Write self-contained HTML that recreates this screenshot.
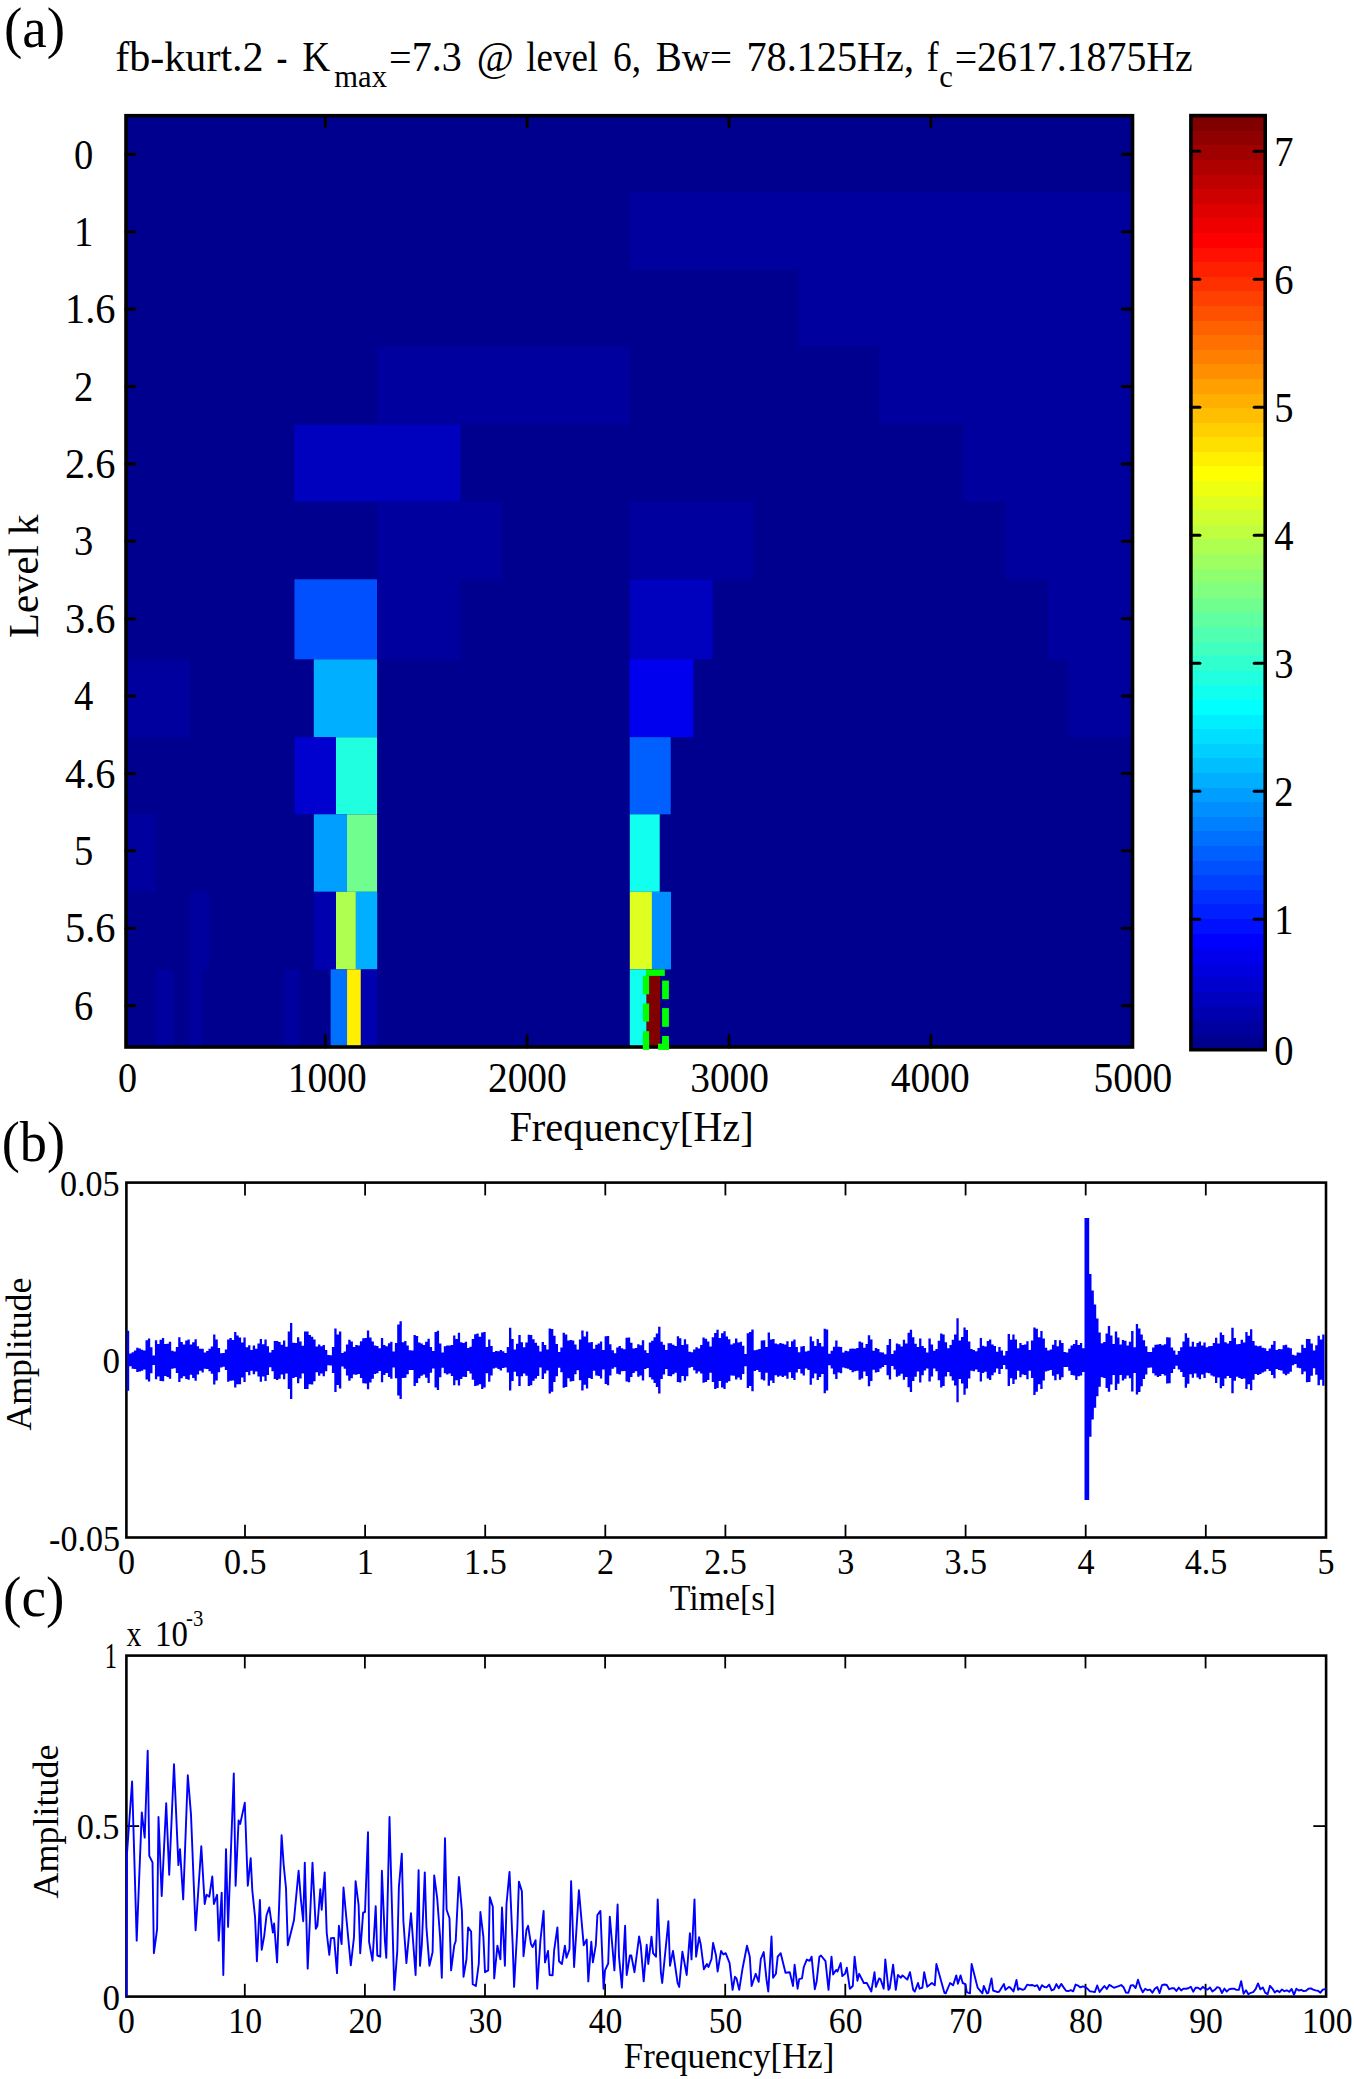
<!DOCTYPE html>
<html><head><meta charset="utf-8"><title>Fast kurtogram</title>
<style>html,body{margin:0;padding:0;background:#fff}svg{display:block}text{font-family:"Liberation Serif",serif;fill:#000}</style>
</head><body>
<svg width="1354" height="2079" viewBox="0 0 1354 2079">
<rect width="1354" height="2079" fill="#fff"/>
<rect x="126" y="115.5" width="1006.5" height="931.5" fill="#00008f"/>
<rect x="629.60" y="191.90" width="502.90" height="77.30" fill="#00009f"/>
<rect x="798.60" y="269.20" width="333.90" height="77.30" fill="#00009f"/>
<rect x="377.05" y="346.50" width="252.55" height="78.10" fill="#00009f"/>
<rect x="879.20" y="346.50" width="253.30" height="78.10" fill="#00009f"/>
<rect x="294.30" y="424.60" width="166.00" height="76.90" fill="#0000bf"/>
<rect x="963.00" y="424.60" width="169.50" height="76.90" fill="#00009f"/>
<rect x="377.05" y="501.50" width="124.65" height="77.80" fill="#00009f"/>
<rect x="629.60" y="501.50" width="124.00" height="77.80" fill="#00009f"/>
<rect x="1005.00" y="501.50" width="127.50" height="77.80" fill="#00009f"/>
<rect x="294.45" y="579.30" width="82.60" height="80.00" fill="#0050ff"/>
<rect x="377.05" y="579.30" width="83.25" height="80.00" fill="#00009f"/>
<rect x="629.60" y="579.30" width="82.90" height="80.00" fill="#0000bf"/>
<rect x="1048.00" y="579.30" width="84.50" height="80.00" fill="#00009f"/>
<rect x="126.00" y="659.30" width="63.40" height="77.90" fill="#00009f"/>
<rect x="313.80" y="659.30" width="63.25" height="77.90" fill="#00afff"/>
<rect x="629.60" y="659.30" width="63.70" height="77.90" fill="#0000ef"/>
<rect x="1068.50" y="659.30" width="64.00" height="77.90" fill="#00009f"/>
<rect x="294.60" y="737.20" width="41.40" height="77.10" fill="#0000cf"/>
<rect x="336.00" y="737.20" width="41.05" height="77.10" fill="#20ffdf"/>
<rect x="629.70" y="737.20" width="41.00" height="77.10" fill="#0060ff"/>
<rect x="126.00" y="814.30" width="29.90" height="77.50" fill="#00009f"/>
<rect x="313.86" y="814.30" width="33.04" height="77.50" fill="#009fff"/>
<rect x="346.90" y="814.30" width="30.15" height="77.50" fill="#70ff8f"/>
<rect x="629.80" y="814.30" width="29.90" height="77.50" fill="#10ffef"/>
<rect x="189.80" y="891.80" width="19.20" height="77.60" fill="#00009f"/>
<rect x="314.00" y="891.80" width="22.00" height="77.60" fill="#0000af"/>
<rect x="336.00" y="891.80" width="19.90" height="77.60" fill="#afff50"/>
<rect x="355.90" y="891.80" width="21.30" height="77.60" fill="#00afff"/>
<rect x="629.80" y="891.80" width="22.15" height="77.60" fill="#dfff20"/>
<rect x="651.95" y="891.80" width="19.05" height="77.60" fill="#008fff"/>
<rect x="155.90" y="969.40" width="17.30" height="77.60" fill="#00009f"/>
<rect x="189.80" y="969.40" width="12.60" height="77.60" fill="#00009f"/>
<rect x="283.50" y="969.40" width="16.40" height="77.60" fill="#00009f"/>
<rect x="330.65" y="969.40" width="16.40" height="77.60" fill="#0070ff"/>
<rect x="347.05" y="969.40" width="13.81" height="77.60" fill="#ffef00"/>
<rect x="360.86" y="969.40" width="16.34" height="77.60" fill="#0000af"/>
<rect x="629.80" y="969.40" width="16.80" height="77.60" fill="#10ffef"/>
<rect x="646.60" y="969.40" width="13.47" height="77.60" fill="#800000"/>
<rect x="646.00" y="969.40" width="18.80" height="6.50" fill="#00ff00"/>
<rect x="642.90" y="975.90" width="6.20" height="18.40" fill="#00ff00"/>
<rect x="642.90" y="1003.50" width="6.20" height="18.10" fill="#00ff00"/>
<rect x="642.90" y="1031.20" width="6.20" height="18.50" fill="#00ff00"/>
<rect x="662.10" y="980.60" width="6.80" height="18.50" fill="#00ff00"/>
<rect x="662.10" y="1008.10" width="6.80" height="18.70" fill="#00ff00"/>
<rect x="662.10" y="1036.00" width="6.80" height="13.70" fill="#00ff00"/>
<rect x="658.00" y="1043.80" width="10.90" height="5.90" fill="#00ff00"/>
<line x1="126.00" y1="154.40" x2="134.60" y2="154.40" stroke="#000" stroke-width="3.1" stroke-linecap="round"/>
<line x1="1132.50" y1="154.40" x2="1122.40" y2="154.40" stroke="#000" stroke-width="3.1" stroke-linecap="round"/>
<line x1="126.00" y1="231.78" x2="134.60" y2="231.78" stroke="#000" stroke-width="3.1" stroke-linecap="round"/>
<line x1="1132.50" y1="231.78" x2="1122.40" y2="231.78" stroke="#000" stroke-width="3.1" stroke-linecap="round"/>
<line x1="126.00" y1="309.16" x2="134.60" y2="309.16" stroke="#000" stroke-width="3.1" stroke-linecap="round"/>
<line x1="1132.50" y1="309.16" x2="1122.40" y2="309.16" stroke="#000" stroke-width="3.1" stroke-linecap="round"/>
<line x1="126.00" y1="386.54" x2="134.60" y2="386.54" stroke="#000" stroke-width="3.1" stroke-linecap="round"/>
<line x1="1132.50" y1="386.54" x2="1122.40" y2="386.54" stroke="#000" stroke-width="3.1" stroke-linecap="round"/>
<line x1="126.00" y1="463.92" x2="134.60" y2="463.92" stroke="#000" stroke-width="3.1" stroke-linecap="round"/>
<line x1="1132.50" y1="463.92" x2="1122.40" y2="463.92" stroke="#000" stroke-width="3.1" stroke-linecap="round"/>
<line x1="126.00" y1="541.30" x2="134.60" y2="541.30" stroke="#000" stroke-width="3.1" stroke-linecap="round"/>
<line x1="1132.50" y1="541.30" x2="1122.40" y2="541.30" stroke="#000" stroke-width="3.1" stroke-linecap="round"/>
<line x1="126.00" y1="618.68" x2="134.60" y2="618.68" stroke="#000" stroke-width="3.1" stroke-linecap="round"/>
<line x1="1132.50" y1="618.68" x2="1122.40" y2="618.68" stroke="#000" stroke-width="3.1" stroke-linecap="round"/>
<line x1="126.00" y1="696.06" x2="134.60" y2="696.06" stroke="#000" stroke-width="3.1" stroke-linecap="round"/>
<line x1="1132.50" y1="696.06" x2="1122.40" y2="696.06" stroke="#000" stroke-width="3.1" stroke-linecap="round"/>
<line x1="126.00" y1="773.44" x2="134.60" y2="773.44" stroke="#000" stroke-width="3.1" stroke-linecap="round"/>
<line x1="1132.50" y1="773.44" x2="1122.40" y2="773.44" stroke="#000" stroke-width="3.1" stroke-linecap="round"/>
<line x1="126.00" y1="850.82" x2="134.60" y2="850.82" stroke="#000" stroke-width="3.1" stroke-linecap="round"/>
<line x1="1132.50" y1="850.82" x2="1122.40" y2="850.82" stroke="#000" stroke-width="3.1" stroke-linecap="round"/>
<line x1="126.00" y1="928.20" x2="134.60" y2="928.20" stroke="#000" stroke-width="3.1" stroke-linecap="round"/>
<line x1="1132.50" y1="928.20" x2="1122.40" y2="928.20" stroke="#000" stroke-width="3.1" stroke-linecap="round"/>
<line x1="126.00" y1="1005.58" x2="134.60" y2="1005.58" stroke="#000" stroke-width="3.1" stroke-linecap="round"/>
<line x1="1132.50" y1="1005.58" x2="1122.40" y2="1005.58" stroke="#000" stroke-width="3.1" stroke-linecap="round"/>
<line x1="325.33" y1="1047.00" x2="325.33" y2="1035.50" stroke="#000" stroke-width="2.9" stroke-linecap="round"/>
<line x1="325.33" y1="115.60" x2="325.33" y2="127.00" stroke="#000" stroke-width="2.9" stroke-linecap="round"/>
<line x1="527.16" y1="1047.00" x2="527.16" y2="1035.50" stroke="#000" stroke-width="2.9" stroke-linecap="round"/>
<line x1="527.16" y1="115.60" x2="527.16" y2="127.00" stroke="#000" stroke-width="2.9" stroke-linecap="round"/>
<line x1="728.99" y1="1047.00" x2="728.99" y2="1035.50" stroke="#000" stroke-width="2.9" stroke-linecap="round"/>
<line x1="728.99" y1="115.60" x2="728.99" y2="127.00" stroke="#000" stroke-width="2.9" stroke-linecap="round"/>
<line x1="930.82" y1="1047.00" x2="930.82" y2="1035.50" stroke="#000" stroke-width="2.9" stroke-linecap="round"/>
<line x1="930.82" y1="115.60" x2="930.82" y2="127.00" stroke="#000" stroke-width="2.9" stroke-linecap="round"/>
<rect x="126" y="115.7" width="1006.5" height="931.3" fill="none" stroke="#000" stroke-width="3.6"/>
<rect x="642.90" y="1040.00" width="6.20" height="9.70" fill="#00ff00"/>
<rect x="658.00" y="1043.80" width="10.90" height="5.90" fill="#00ff00"/>
<rect x="662.10" y="1040.00" width="6.80" height="9.70" fill="#00ff00"/>
<rect x="1190.90" y="1035.10" width="74.30" height="15.20" fill="#00008f" shape-rendering="crispEdges"/>
<rect x="1190.90" y="1020.51" width="74.30" height="15.20" fill="#00009f" shape-rendering="crispEdges"/>
<rect x="1190.90" y="1005.91" width="74.30" height="15.20" fill="#0000af" shape-rendering="crispEdges"/>
<rect x="1190.90" y="991.32" width="74.30" height="15.20" fill="#0000bf" shape-rendering="crispEdges"/>
<rect x="1190.90" y="976.72" width="74.30" height="15.20" fill="#0000cf" shape-rendering="crispEdges"/>
<rect x="1190.90" y="962.13" width="74.30" height="15.20" fill="#0000df" shape-rendering="crispEdges"/>
<rect x="1190.90" y="947.53" width="74.30" height="15.20" fill="#0000ef" shape-rendering="crispEdges"/>
<rect x="1190.90" y="932.94" width="74.30" height="15.20" fill="#0000ff" shape-rendering="crispEdges"/>
<rect x="1190.90" y="918.34" width="74.30" height="15.20" fill="#0010ff" shape-rendering="crispEdges"/>
<rect x="1190.90" y="903.75" width="74.30" height="15.20" fill="#0020ff" shape-rendering="crispEdges"/>
<rect x="1190.90" y="889.15" width="74.30" height="15.20" fill="#0030ff" shape-rendering="crispEdges"/>
<rect x="1190.90" y="874.56" width="74.30" height="15.20" fill="#0040ff" shape-rendering="crispEdges"/>
<rect x="1190.90" y="859.96" width="74.30" height="15.20" fill="#0050ff" shape-rendering="crispEdges"/>
<rect x="1190.90" y="845.37" width="74.30" height="15.20" fill="#0060ff" shape-rendering="crispEdges"/>
<rect x="1190.90" y="830.77" width="74.30" height="15.20" fill="#0070ff" shape-rendering="crispEdges"/>
<rect x="1190.90" y="816.18" width="74.30" height="15.20" fill="#0080ff" shape-rendering="crispEdges"/>
<rect x="1190.90" y="801.58" width="74.30" height="15.20" fill="#008fff" shape-rendering="crispEdges"/>
<rect x="1190.90" y="786.98" width="74.30" height="15.20" fill="#009fff" shape-rendering="crispEdges"/>
<rect x="1190.90" y="772.39" width="74.30" height="15.20" fill="#00afff" shape-rendering="crispEdges"/>
<rect x="1190.90" y="757.79" width="74.30" height="15.20" fill="#00bfff" shape-rendering="crispEdges"/>
<rect x="1190.90" y="743.20" width="74.30" height="15.20" fill="#00cfff" shape-rendering="crispEdges"/>
<rect x="1190.90" y="728.60" width="74.30" height="15.20" fill="#00dfff" shape-rendering="crispEdges"/>
<rect x="1190.90" y="714.01" width="74.30" height="15.20" fill="#00efff" shape-rendering="crispEdges"/>
<rect x="1190.90" y="699.41" width="74.30" height="15.20" fill="#00ffff" shape-rendering="crispEdges"/>
<rect x="1190.90" y="684.82" width="74.30" height="15.20" fill="#10ffef" shape-rendering="crispEdges"/>
<rect x="1190.90" y="670.22" width="74.30" height="15.20" fill="#20ffdf" shape-rendering="crispEdges"/>
<rect x="1190.90" y="655.63" width="74.30" height="15.20" fill="#30ffcf" shape-rendering="crispEdges"/>
<rect x="1190.90" y="641.03" width="74.30" height="15.20" fill="#40ffbf" shape-rendering="crispEdges"/>
<rect x="1190.90" y="626.44" width="74.30" height="15.20" fill="#50ffaf" shape-rendering="crispEdges"/>
<rect x="1190.90" y="611.84" width="74.30" height="15.20" fill="#60ff9f" shape-rendering="crispEdges"/>
<rect x="1190.90" y="597.25" width="74.30" height="15.20" fill="#70ff8f" shape-rendering="crispEdges"/>
<rect x="1190.90" y="582.65" width="74.30" height="15.20" fill="#80ff80" shape-rendering="crispEdges"/>
<rect x="1190.90" y="568.05" width="74.30" height="15.20" fill="#8fff70" shape-rendering="crispEdges"/>
<rect x="1190.90" y="553.46" width="74.30" height="15.20" fill="#9fff60" shape-rendering="crispEdges"/>
<rect x="1190.90" y="538.86" width="74.30" height="15.20" fill="#afff50" shape-rendering="crispEdges"/>
<rect x="1190.90" y="524.27" width="74.30" height="15.20" fill="#bfff40" shape-rendering="crispEdges"/>
<rect x="1190.90" y="509.67" width="74.30" height="15.20" fill="#cfff30" shape-rendering="crispEdges"/>
<rect x="1190.90" y="495.08" width="74.30" height="15.20" fill="#dfff20" shape-rendering="crispEdges"/>
<rect x="1190.90" y="480.48" width="74.30" height="15.20" fill="#efff10" shape-rendering="crispEdges"/>
<rect x="1190.90" y="465.89" width="74.30" height="15.20" fill="#ffff00" shape-rendering="crispEdges"/>
<rect x="1190.90" y="451.29" width="74.30" height="15.20" fill="#ffef00" shape-rendering="crispEdges"/>
<rect x="1190.90" y="436.70" width="74.30" height="15.20" fill="#ffdf00" shape-rendering="crispEdges"/>
<rect x="1190.90" y="422.10" width="74.30" height="15.20" fill="#ffcf00" shape-rendering="crispEdges"/>
<rect x="1190.90" y="407.51" width="74.30" height="15.20" fill="#ffbf00" shape-rendering="crispEdges"/>
<rect x="1190.90" y="392.91" width="74.30" height="15.20" fill="#ffaf00" shape-rendering="crispEdges"/>
<rect x="1190.90" y="378.32" width="74.30" height="15.20" fill="#ff9f00" shape-rendering="crispEdges"/>
<rect x="1190.90" y="363.72" width="74.30" height="15.20" fill="#ff8f00" shape-rendering="crispEdges"/>
<rect x="1190.90" y="349.12" width="74.30" height="15.20" fill="#ff8000" shape-rendering="crispEdges"/>
<rect x="1190.90" y="334.53" width="74.30" height="15.20" fill="#ff7000" shape-rendering="crispEdges"/>
<rect x="1190.90" y="319.93" width="74.30" height="15.20" fill="#ff6000" shape-rendering="crispEdges"/>
<rect x="1190.90" y="305.34" width="74.30" height="15.20" fill="#ff5000" shape-rendering="crispEdges"/>
<rect x="1190.90" y="290.74" width="74.30" height="15.20" fill="#ff4000" shape-rendering="crispEdges"/>
<rect x="1190.90" y="276.15" width="74.30" height="15.20" fill="#ff3000" shape-rendering="crispEdges"/>
<rect x="1190.90" y="261.55" width="74.30" height="15.20" fill="#ff2000" shape-rendering="crispEdges"/>
<rect x="1190.90" y="246.96" width="74.30" height="15.20" fill="#ff1000" shape-rendering="crispEdges"/>
<rect x="1190.90" y="232.36" width="74.30" height="15.20" fill="#ff0000" shape-rendering="crispEdges"/>
<rect x="1190.90" y="217.77" width="74.30" height="15.20" fill="#ef0000" shape-rendering="crispEdges"/>
<rect x="1190.90" y="203.17" width="74.30" height="15.20" fill="#df0000" shape-rendering="crispEdges"/>
<rect x="1190.90" y="188.58" width="74.30" height="15.20" fill="#cf0000" shape-rendering="crispEdges"/>
<rect x="1190.90" y="173.98" width="74.30" height="15.20" fill="#bf0000" shape-rendering="crispEdges"/>
<rect x="1190.90" y="159.39" width="74.30" height="15.20" fill="#af0000" shape-rendering="crispEdges"/>
<rect x="1190.90" y="144.79" width="74.30" height="15.20" fill="#9f0000" shape-rendering="crispEdges"/>
<rect x="1190.90" y="130.20" width="74.30" height="15.20" fill="#8f0000" shape-rendering="crispEdges"/>
<rect x="1190.90" y="115.60" width="74.30" height="15.20" fill="#800000" shape-rendering="crispEdges"/>
<line x1="1190.90" y1="919.35" x2="1199.90" y2="919.35" stroke="#000" stroke-width="3" stroke-linecap="round"/>
<line x1="1265.20" y1="919.35" x2="1254.20" y2="919.35" stroke="#000" stroke-width="3" stroke-linecap="round"/>
<line x1="1190.90" y1="791.35" x2="1199.90" y2="791.35" stroke="#000" stroke-width="3" stroke-linecap="round"/>
<line x1="1265.20" y1="791.35" x2="1254.20" y2="791.35" stroke="#000" stroke-width="3" stroke-linecap="round"/>
<line x1="1190.90" y1="663.35" x2="1199.90" y2="663.35" stroke="#000" stroke-width="3" stroke-linecap="round"/>
<line x1="1265.20" y1="663.35" x2="1254.20" y2="663.35" stroke="#000" stroke-width="3" stroke-linecap="round"/>
<line x1="1190.90" y1="535.35" x2="1199.90" y2="535.35" stroke="#000" stroke-width="3" stroke-linecap="round"/>
<line x1="1265.20" y1="535.35" x2="1254.20" y2="535.35" stroke="#000" stroke-width="3" stroke-linecap="round"/>
<line x1="1190.90" y1="407.35" x2="1199.90" y2="407.35" stroke="#000" stroke-width="3" stroke-linecap="round"/>
<line x1="1265.20" y1="407.35" x2="1254.20" y2="407.35" stroke="#000" stroke-width="3" stroke-linecap="round"/>
<line x1="1190.90" y1="279.35" x2="1199.90" y2="279.35" stroke="#000" stroke-width="3" stroke-linecap="round"/>
<line x1="1265.20" y1="279.35" x2="1254.20" y2="279.35" stroke="#000" stroke-width="3" stroke-linecap="round"/>
<line x1="1190.90" y1="151.35" x2="1199.90" y2="151.35" stroke="#000" stroke-width="3" stroke-linecap="round"/>
<line x1="1265.20" y1="151.35" x2="1254.20" y2="151.35" stroke="#000" stroke-width="3" stroke-linecap="round"/>
<rect x="1190.9" y="115.6" width="74.3" height="934.1" fill="none" stroke="#000" stroke-width="3.6"/>
<line x1="245.00" y1="1537.50" x2="245.00" y2="1524.70" stroke="#000" stroke-width="1.8" stroke-linecap="butt"/>
<line x1="245.00" y1="1182.60" x2="245.00" y2="1195.40" stroke="#000" stroke-width="1.8" stroke-linecap="butt"/>
<line x1="365.10" y1="1537.50" x2="365.10" y2="1524.70" stroke="#000" stroke-width="1.8" stroke-linecap="butt"/>
<line x1="365.10" y1="1182.60" x2="365.10" y2="1195.40" stroke="#000" stroke-width="1.8" stroke-linecap="butt"/>
<line x1="485.20" y1="1537.50" x2="485.20" y2="1524.70" stroke="#000" stroke-width="1.8" stroke-linecap="butt"/>
<line x1="485.20" y1="1182.60" x2="485.20" y2="1195.40" stroke="#000" stroke-width="1.8" stroke-linecap="butt"/>
<line x1="605.30" y1="1537.50" x2="605.30" y2="1524.70" stroke="#000" stroke-width="1.8" stroke-linecap="butt"/>
<line x1="605.30" y1="1182.60" x2="605.30" y2="1195.40" stroke="#000" stroke-width="1.8" stroke-linecap="butt"/>
<line x1="725.40" y1="1537.50" x2="725.40" y2="1524.70" stroke="#000" stroke-width="1.8" stroke-linecap="butt"/>
<line x1="725.40" y1="1182.60" x2="725.40" y2="1195.40" stroke="#000" stroke-width="1.8" stroke-linecap="butt"/>
<line x1="845.50" y1="1537.50" x2="845.50" y2="1524.70" stroke="#000" stroke-width="1.8" stroke-linecap="butt"/>
<line x1="845.50" y1="1182.60" x2="845.50" y2="1195.40" stroke="#000" stroke-width="1.8" stroke-linecap="butt"/>
<line x1="965.60" y1="1537.50" x2="965.60" y2="1524.70" stroke="#000" stroke-width="1.8" stroke-linecap="butt"/>
<line x1="965.60" y1="1182.60" x2="965.60" y2="1195.40" stroke="#000" stroke-width="1.8" stroke-linecap="butt"/>
<line x1="1085.70" y1="1537.50" x2="1085.70" y2="1524.70" stroke="#000" stroke-width="1.8" stroke-linecap="butt"/>
<line x1="1085.70" y1="1182.60" x2="1085.70" y2="1195.40" stroke="#000" stroke-width="1.8" stroke-linecap="butt"/>
<line x1="1205.80" y1="1537.50" x2="1205.80" y2="1524.70" stroke="#000" stroke-width="1.8" stroke-linecap="butt"/>
<line x1="1205.80" y1="1182.60" x2="1205.80" y2="1195.40" stroke="#000" stroke-width="1.8" stroke-linecap="butt"/>
<rect x="126.4" y="1182.6" width="1199.6" height="354.9" fill="none" stroke="#000" stroke-width="2.6"/>
<polygon fill="#0000ff" points="126.9,1330.8 129.2,1330.8 129.2,1353.5 131.6,1353.5 131.6,1352.3 133.9,1352.3 133.9,1350.4 136.2,1350.4 136.2,1347.8 138.6,1347.8 138.6,1348.4 140.9,1348.4 140.9,1349.8 143.2,1349.8 143.2,1350.4 145.5,1350.4 145.5,1340.3 147.9,1340.3 147.9,1338.5 150.2,1338.5 150.2,1347.2 152.5,1347.2 152.5,1355.5 154.9,1355.5 154.9,1340.3 157.2,1340.3 157.2,1343.9 159.5,1343.9 159.5,1339.7 161.9,1339.7 161.9,1338.0 164.2,1338.0 164.2,1344.1 166.5,1344.1 166.5,1343.8 168.8,1343.8 168.8,1341.8 171.2,1341.8 171.2,1350.7 173.5,1350.7 173.5,1351.4 175.8,1351.4 175.8,1347.1 178.2,1347.1 178.2,1337.3 180.5,1337.3 180.5,1342.0 182.8,1342.0 182.8,1344.6 185.2,1344.6 185.2,1340.5 187.5,1340.5 187.5,1339.5 189.8,1339.5 189.8,1344.4 192.1,1344.4 192.1,1342.3 194.5,1342.3 194.5,1339.2 196.8,1339.2 196.8,1346.3 199.1,1346.3 199.1,1348.8 201.5,1348.8 201.5,1348.7 203.8,1348.7 203.8,1352.6 206.1,1352.6 206.1,1350.9 208.5,1350.9 208.4,1348.8 210.8,1348.8 210.8,1346.6 213.1,1346.6 213.1,1334.4 215.4,1334.4 215.4,1339.4 217.8,1339.4 217.8,1348.1 220.1,1348.1 220.1,1353.2 222.4,1353.2 222.4,1353.0 224.8,1353.0 224.8,1349.4 227.1,1349.4 227.1,1339.4 229.4,1339.4 229.4,1338.1 231.8,1338.1 231.8,1339.9 234.1,1339.9 234.1,1332.1 236.4,1332.1 236.4,1335.5 238.7,1335.5 238.7,1337.4 241.1,1337.4 241.1,1342.5 243.4,1342.5 243.4,1337.6 245.7,1337.6 245.7,1347.3 248.1,1347.3 248.1,1345.3 250.4,1345.3 250.4,1349.9 252.7,1349.9 252.7,1345.4 255.1,1345.4 255.1,1348.7 257.4,1348.7 257.4,1343.4 259.7,1343.4 259.7,1339.1 262.0,1339.1 262.0,1344.2 264.4,1344.2 264.4,1339.6 266.7,1339.6 266.7,1346.3 269.0,1346.3 269.0,1352.6 271.4,1352.6 271.4,1350.0 273.7,1350.0 273.7,1340.9 276.0,1340.9 276.0,1340.9 278.3,1340.9 278.4,1342.0 280.7,1342.0 280.7,1344.7 283.0,1344.7 283.0,1340.4 285.3,1340.4 285.3,1346.8 287.7,1346.8 287.7,1331.5 290.0,1331.5 290.0,1322.9 292.3,1322.9 292.3,1342.8 294.7,1342.8 294.7,1343.0 297.0,1343.0 297.0,1337.2 299.3,1337.2 299.3,1341.5 301.7,1341.5 301.6,1345.8 304.0,1345.8 304.0,1331.4 306.3,1331.4 306.3,1331.4 308.6,1331.4 308.6,1335.0 311.0,1335.0 311.0,1336.7 313.3,1336.7 313.3,1339.5 315.6,1339.5 315.6,1346.6 318.0,1346.6 318.0,1344.4 320.3,1344.4 320.3,1346.2 322.6,1346.2 322.6,1345.0 324.9,1345.0 325.0,1349.9 327.3,1349.9 327.3,1354.9 329.6,1354.9 329.6,1355.3 331.9,1355.3 331.9,1346.9 334.3,1346.9 334.3,1328.5 336.6,1328.5 336.6,1334.5 338.9,1334.5 338.9,1331.6 341.3,1331.6 341.3,1352.9 343.6,1352.9 343.6,1351.4 345.9,1351.4 345.9,1344.6 348.2,1344.6 348.2,1339.8 350.6,1339.8 350.6,1341.4 352.9,1341.4 352.9,1347.1 355.2,1347.1 355.2,1345.1 357.6,1345.1 357.6,1345.6 359.9,1345.6 359.9,1341.3 362.2,1341.3 362.2,1338.3 364.6,1338.3 364.6,1337.9 366.9,1337.9 366.9,1330.4 369.2,1330.4 369.2,1337.6 371.6,1337.6 371.6,1341.4 373.9,1341.4 373.9,1345.5 376.2,1345.5 376.2,1346.1 378.5,1346.1 378.5,1348.3 380.9,1348.3 380.9,1337.9 383.2,1337.9 383.2,1345.1 385.5,1345.1 385.5,1346.3 387.9,1346.3 387.9,1343.3 390.2,1343.3 390.2,1341.7 392.5,1341.7 392.5,1351.6 394.8,1351.6 394.9,1343.0 397.2,1343.0 397.2,1324.4 399.5,1324.4 399.5,1321.2 401.8,1321.2 401.8,1342.2 404.2,1342.2 404.2,1340.9 406.5,1340.9 406.5,1345.6 408.8,1345.6 408.8,1350.2 411.2,1350.2 411.2,1350.5 413.5,1350.5 413.5,1335.0 415.8,1335.0 415.8,1336.1 418.2,1336.1 418.1,1342.4 420.5,1342.4 420.5,1343.4 422.8,1343.4 422.8,1345.0 425.1,1345.0 425.1,1341.7 427.5,1341.7 427.5,1338.8 429.8,1338.8 429.8,1347.0 432.1,1347.0 432.1,1351.0 434.5,1351.0 434.5,1331.9 436.8,1331.9 436.8,1330.8 439.1,1330.8 439.1,1343.4 441.4,1343.4 441.5,1352.5 443.8,1352.5 443.8,1346.3 446.1,1346.3 446.1,1345.4 448.4,1345.4 448.4,1345.6 450.8,1345.6 450.8,1345.1 453.1,1345.1 453.1,1335.5 455.4,1335.5 455.4,1339.0 457.8,1339.0 457.8,1332.7 460.1,1332.7 460.1,1342.2 462.4,1342.2 462.4,1343.1 464.7,1343.1 464.8,1341.8 467.1,1341.8 467.1,1348.1 469.4,1348.1 469.4,1346.7 471.7,1346.7 471.7,1339.0 474.1,1339.0 474.1,1334.2 476.4,1334.2 476.4,1333.4 478.7,1333.4 478.7,1336.7 481.1,1336.7 481.1,1332.4 483.4,1332.4 483.4,1331.9 485.7,1331.9 485.7,1346.9 488.1,1346.9 488.1,1339.5 490.4,1339.5 490.4,1345.9 492.7,1345.9 492.7,1352.0 495.0,1352.0 495.0,1351.0 497.4,1351.0 497.4,1351.2 499.7,1351.2 499.7,1350.0 502.0,1350.0 502.0,1351.2 504.4,1351.2 504.4,1352.9 506.7,1352.9 506.7,1346.9 509.0,1346.9 509.0,1327.8 511.3,1327.8 511.4,1338.9 513.7,1338.9 513.7,1349.6 516.0,1349.6 516.0,1343.7 518.3,1343.7 518.3,1335.0 520.7,1335.0 520.7,1342.3 523.0,1342.3 523.0,1347.2 525.3,1347.2 525.3,1342.5 527.7,1342.5 527.7,1334.7 530.0,1334.7 530.0,1335.0 532.3,1335.0 532.3,1339.2 534.7,1339.2 534.6,1342.7 537.0,1342.7 537.0,1345.7 539.3,1345.7 539.3,1351.5 541.6,1351.5 541.6,1342.0 544.0,1342.0 544.0,1345.0 546.3,1345.0 546.3,1349.4 548.6,1349.4 548.6,1328.4 551.0,1328.4 551.0,1329.0 553.3,1329.0 553.3,1335.8 555.6,1335.8 555.6,1344.0 558.0,1344.0 558.0,1352.0 560.3,1352.0 560.3,1347.4 562.6,1347.4 562.6,1332.7 564.9,1332.7 564.9,1334.4 567.3,1334.4 567.3,1340.4 569.6,1340.4 569.6,1340.1 571.9,1340.1 571.9,1340.6 574.3,1340.6 574.3,1344.6 576.6,1344.6 576.6,1349.4 578.9,1349.4 578.9,1339.4 581.3,1339.4 581.2,1330.5 583.6,1330.5 583.6,1336.5 585.9,1336.5 585.9,1331.5 588.2,1331.5 588.2,1342.5 590.6,1342.5 590.6,1341.9 592.9,1341.9 592.9,1348.7 595.2,1348.7 595.2,1344.8 597.6,1344.8 597.6,1343.4 599.9,1343.4 599.9,1341.5 602.2,1341.5 602.2,1349.9 604.6,1349.9 604.6,1336.3 606.9,1336.3 606.9,1336.1 609.2,1336.1 609.2,1344.3 611.5,1344.3 611.5,1350.3 613.9,1350.3 613.9,1353.3 616.2,1353.3 616.2,1347.4 618.5,1347.4 618.5,1345.9 620.9,1345.9 620.9,1348.3 623.2,1348.3 623.2,1349.2 625.5,1349.2 625.5,1337.7 627.9,1337.7 627.9,1337.5 630.2,1337.5 630.2,1342.7 632.5,1342.7 632.5,1348.5 634.8,1348.5 634.8,1348.1 637.2,1348.1 637.2,1344.3 639.5,1344.3 639.5,1345.2 641.8,1345.2 641.8,1340.3 644.2,1340.3 644.2,1350.2 646.5,1350.2 646.5,1353.1 648.8,1353.1 648.8,1342.5 651.2,1342.5 651.1,1340.7 653.5,1340.7 653.5,1337.2 655.8,1337.2 655.8,1333.6 658.1,1333.6 658.1,1326.7 660.5,1326.7 660.5,1341.7 662.8,1341.7 662.8,1344.8 665.1,1344.8 665.1,1350.0 667.5,1350.0 667.5,1343.2 669.8,1343.2 669.8,1343.3 672.1,1343.3 672.1,1344.7 674.5,1344.7 674.5,1346.0 676.8,1346.0 676.8,1336.3 679.1,1336.3 679.1,1338.2 681.4,1338.2 681.4,1344.9 683.8,1344.9 683.8,1339.2 686.1,1339.2 686.1,1344.3 688.4,1344.3 688.4,1351.7 690.8,1351.7 690.8,1352.2 693.1,1352.2 693.1,1349.5 695.4,1349.5 695.4,1347.2 697.8,1347.2 697.8,1348.5 700.1,1348.5 700.1,1344.9 702.4,1344.9 702.4,1337.6 704.7,1337.6 704.7,1338.7 707.1,1338.7 707.1,1341.6 709.4,1341.6 709.4,1346.5 711.7,1346.5 711.7,1337.2 714.1,1337.2 714.1,1333.1 716.4,1333.1 716.4,1329.8 718.7,1329.8 718.7,1338.0 721.1,1338.0 721.0,1333.3 723.4,1333.3 723.4,1331.3 725.7,1331.3 725.7,1336.5 728.0,1336.5 728.0,1339.3 730.4,1339.3 730.4,1344.6 732.7,1344.6 732.7,1343.3 735.0,1343.3 735.0,1338.5 737.4,1338.5 737.4,1342.4 739.7,1342.4 739.7,1341.7 742.0,1341.7 742.0,1345.7 744.4,1345.7 744.4,1354.1 746.7,1354.1 746.7,1333.2 749.0,1333.2 749.0,1331.9 751.3,1331.9 751.3,1329.5 753.7,1329.5 753.7,1350.2 756.0,1350.2 756.0,1349.7 758.3,1349.7 758.3,1349.1 760.7,1349.1 760.7,1340.4 763.0,1340.4 763.0,1340.2 765.3,1340.2 765.3,1347.1 767.7,1347.1 767.6,1332.6 770.0,1332.6 770.0,1339.6 772.3,1339.6 772.3,1339.0 774.6,1339.0 774.6,1343.6 777.0,1343.6 777.0,1344.2 779.3,1344.2 779.3,1343.0 781.6,1343.0 781.6,1343.8 784.0,1343.8 784.0,1344.5 786.3,1344.5 786.3,1341.2 788.6,1341.2 788.6,1347.0 791.0,1347.0 791.0,1341.2 793.3,1341.2 793.3,1339.5 795.6,1339.5 795.6,1347.1 797.9,1347.1 797.9,1352.3 800.3,1352.3 800.3,1346.5 802.6,1346.5 802.6,1346.0 804.9,1346.0 804.9,1351.4 807.3,1351.4 807.3,1350.7 809.6,1350.7 809.6,1336.4 811.9,1336.4 811.9,1341.3 814.2,1341.3 814.2,1346.0 816.6,1346.0 816.6,1339.0 818.9,1339.0 818.9,1343.1 821.2,1343.1 821.2,1346.5 823.6,1346.5 823.6,1328.8 825.9,1328.8 825.9,1329.6 828.2,1329.6 828.2,1353.7 830.6,1353.7 830.6,1350.8 832.9,1350.8 832.9,1346.7 835.2,1346.7 835.2,1340.5 837.6,1340.5 837.5,1346.8 839.9,1346.8 839.9,1347.0 842.2,1347.0 842.2,1352.5 844.5,1352.5 844.5,1350.8 846.9,1350.8 846.9,1351.3 849.2,1351.3 849.2,1348.7 851.5,1348.7 851.5,1348.4 853.9,1348.4 853.9,1348.8 856.2,1348.8 856.2,1348.0 858.5,1348.0 858.5,1341.5 860.9,1341.5 860.9,1342.6 863.2,1342.6 863.2,1347.7 865.5,1347.7 865.5,1344.1 867.8,1344.1 867.8,1335.2 870.2,1335.2 870.2,1339.4 872.5,1339.4 872.5,1350.8 874.8,1350.8 874.8,1348.0 877.2,1348.0 877.2,1348.9 879.5,1348.9 879.5,1352.3 881.8,1352.3 881.8,1352.6 884.2,1352.6 884.1,1354.2 886.5,1354.2 886.5,1344.9 888.8,1344.9 888.8,1339.1 891.1,1339.1 891.1,1354.0 893.5,1354.0 893.5,1350.6 895.8,1350.6 895.8,1343.5 898.1,1343.5 898.1,1344.3 900.5,1344.3 900.5,1346.5 902.8,1346.5 902.8,1339.7 905.1,1339.7 905.1,1343.4 907.5,1343.4 907.5,1332.8 909.8,1332.8 909.8,1329.8 912.1,1329.8 912.1,1337.2 914.4,1337.2 914.4,1343.8 916.8,1343.8 916.8,1347.1 919.1,1347.1 919.1,1338.4 921.4,1338.4 921.4,1346.1 923.8,1346.1 923.8,1347.9 926.1,1347.9 926.1,1352.4 928.4,1352.4 928.4,1338.6 930.8,1338.6 930.8,1344.5 933.1,1344.5 933.1,1350.7 935.4,1350.7 935.4,1349.1 937.7,1349.1 937.7,1340.7 940.1,1340.7 940.1,1333.4 942.4,1333.4 942.4,1334.5 944.7,1334.5 944.7,1342.2 947.1,1342.2 947.1,1348.2 949.4,1348.2 949.4,1345.0 951.7,1345.0 951.7,1339.8 954.1,1339.8 954.0,1334.6 956.4,1334.6 956.4,1318.3 958.7,1318.3 958.7,1340.5 961.0,1340.5 961.0,1337.1 963.4,1337.1 963.4,1327.5 965.7,1327.5 965.7,1330.0 968.0,1330.0 968.0,1341.5 970.4,1341.5 970.4,1349.1 972.7,1349.1 972.7,1350.0 975.0,1350.0 975.0,1351.2 977.4,1351.2 977.4,1348.0 979.7,1348.0 979.7,1338.0 982.0,1338.0 982.0,1345.8 984.3,1345.8 984.3,1346.6 986.7,1346.6 986.7,1341.1 989.0,1341.1 989.0,1339.6 991.3,1339.6 991.3,1344.5 993.7,1344.5 993.7,1346.1 996.0,1346.1 996.0,1351.8 998.3,1351.8 998.3,1346.9 1000.7,1346.9 1000.6,1350.5 1003.0,1350.5 1003.0,1355.5 1005.3,1355.5 1005.3,1351.1 1007.6,1351.1 1007.6,1334.0 1010.0,1334.0 1010.0,1339.8 1012.3,1339.8 1012.3,1334.4 1014.6,1334.4 1014.6,1339.4 1017.0,1339.4 1017.0,1348.2 1019.3,1348.2 1019.3,1342.9 1021.6,1342.9 1021.6,1344.9 1024.0,1344.9 1024.0,1344.5 1026.3,1344.5 1026.3,1341.3 1028.6,1341.3 1028.6,1349.9 1030.9,1349.9 1030.9,1340.5 1033.3,1340.5 1033.3,1327.5 1035.6,1327.5 1035.6,1328.7 1037.9,1328.7 1037.9,1337.3 1040.3,1337.3 1040.3,1331.1 1042.6,1331.1 1042.6,1338.6 1044.9,1338.6 1044.9,1347.7 1047.2,1347.7 1047.2,1350.4 1049.6,1350.4 1049.6,1349.4 1051.9,1349.4 1051.9,1344.8 1054.2,1344.8 1054.2,1339.9 1056.6,1339.9 1056.6,1346.3 1058.9,1346.3 1058.9,1340.2 1061.2,1340.2 1061.2,1342.9 1063.6,1342.9 1063.6,1351.9 1065.9,1351.9 1065.9,1352.6 1068.2,1352.6 1068.2,1348.8 1070.5,1348.8 1070.5,1345.6 1072.9,1345.6 1072.9,1344.1 1075.2,1344.1 1075.2,1340.1 1077.5,1340.1 1077.5,1345.0 1079.9,1345.0 1079.9,1343.1 1082.2,1343.1 1082.2,1348.2 1084.5,1348.2 1084.5,1218.0 1086.9,1218.0 1086.9,1218.0 1089.2,1218.0 1089.2,1274.0 1091.5,1274.0 1091.5,1290.4 1093.8,1290.4 1093.9,1304.4 1096.2,1304.4 1096.2,1318.5 1098.5,1318.5 1098.5,1332.4 1100.8,1332.4 1100.8,1343.3 1103.2,1343.3 1103.2,1342.1 1105.5,1342.1 1105.5,1333.5 1107.8,1333.5 1107.8,1326.0 1110.2,1326.0 1110.2,1335.4 1112.5,1335.4 1112.5,1344.1 1114.8,1344.1 1114.8,1331.5 1117.2,1331.5 1117.2,1337.5 1119.5,1337.5 1119.5,1344.5 1121.8,1344.5 1121.8,1340.1 1124.1,1340.1 1124.1,1340.8 1126.5,1340.8 1126.5,1345.6 1128.8,1345.6 1128.8,1341.8 1131.1,1341.8 1131.1,1331.0 1133.5,1331.0 1133.5,1347.2 1135.8,1347.2 1135.8,1323.9 1138.1,1323.9 1138.1,1328.5 1140.5,1328.5 1140.5,1334.5 1142.8,1334.5 1142.8,1340.3 1145.1,1340.3 1145.1,1346.2 1147.4,1346.2 1147.4,1351.9 1149.8,1351.9 1149.8,1351.9 1152.1,1351.9 1152.1,1347.5 1154.4,1347.5 1154.4,1344.8 1156.8,1344.8 1156.8,1344.4 1159.1,1344.4 1159.1,1344.0 1161.4,1344.0 1161.4,1345.3 1163.8,1345.3 1163.8,1344.3 1166.1,1344.3 1166.1,1337.3 1168.4,1337.3 1168.4,1337.4 1170.7,1337.4 1170.7,1347.4 1173.1,1347.4 1173.1,1350.6 1175.4,1350.6 1175.4,1354.7 1177.7,1354.7 1177.7,1350.9 1180.1,1350.9 1180.1,1347.2 1182.4,1347.2 1182.4,1341.4 1184.7,1341.4 1184.7,1333.2 1187.0,1333.2 1187.1,1337.7 1189.4,1337.7 1189.4,1346.4 1191.7,1346.4 1191.7,1341.7 1194.0,1341.7 1194.0,1346.7 1196.4,1346.7 1196.4,1343.1 1198.7,1343.1 1198.7,1341.6 1201.0,1341.6 1201.0,1345.5 1203.4,1345.5 1203.4,1342.5 1205.7,1342.5 1205.7,1347.2 1208.0,1347.2 1208.0,1346.3 1210.4,1346.3 1210.4,1345.9 1212.7,1345.9 1212.7,1342.9 1215.0,1342.9 1215.0,1337.7 1217.3,1337.7 1217.3,1343.5 1219.7,1343.5 1219.7,1332.5 1222.0,1332.5 1222.0,1334.9 1224.3,1334.9 1224.3,1342.2 1226.7,1342.2 1226.7,1343.4 1229.0,1343.4 1229.0,1341.0 1231.3,1341.0 1231.3,1327.7 1233.7,1327.7 1233.7,1337.9 1236.0,1337.9 1236.0,1344.2 1238.3,1344.2 1238.3,1344.1 1240.6,1344.1 1240.6,1339.7 1243.0,1339.7 1243.0,1342.4 1245.3,1342.4 1245.3,1332.0 1247.6,1332.0 1247.6,1335.7 1250.0,1335.7 1250.0,1329.3 1252.3,1329.3 1252.3,1340.9 1254.6,1340.9 1254.6,1345.5 1257.0,1345.5 1257.0,1346.2 1259.3,1346.2 1259.3,1345.8 1261.6,1345.8 1261.6,1347.7 1263.9,1347.7 1263.9,1348.3 1266.3,1348.3 1266.3,1351.1 1268.6,1351.1 1268.6,1348.6 1270.9,1348.6 1270.9,1344.8 1273.3,1344.8 1273.3,1341.1 1275.6,1341.1 1275.6,1350.0 1277.9,1350.0 1277.9,1349.0 1280.2,1349.0 1280.3,1349.3 1282.6,1349.3 1282.6,1345.3 1284.9,1345.3 1284.9,1344.8 1287.2,1344.8 1287.2,1347.5 1289.6,1347.5 1289.6,1348.3 1291.9,1348.3 1291.9,1354.8 1294.2,1354.8 1294.2,1355.5 1296.6,1355.5 1296.6,1352.6 1298.9,1352.6 1298.9,1352.7 1301.2,1352.7 1301.2,1344.7 1303.5,1344.7 1303.6,1347.9 1305.9,1347.9 1305.9,1338.9 1308.2,1338.9 1308.2,1339.0 1310.5,1339.0 1310.5,1343.5 1312.9,1343.5 1312.9,1350.5 1315.2,1350.5 1315.2,1345.2 1317.5,1345.2 1317.5,1335.7 1319.9,1335.7 1319.9,1339.5 1322.2,1339.5 1322.2,1334.6 1324.5,1334.6 1324.5,1385.8 1322.2,1385.8 1322.2,1379.8 1319.9,1379.8 1319.9,1385.2 1317.5,1385.2 1317.5,1374.7 1315.2,1374.7 1315.2,1368.2 1312.9,1368.2 1312.9,1375.7 1310.5,1375.7 1310.5,1382.0 1308.2,1382.0 1308.2,1382.3 1305.9,1382.3 1305.9,1371.4 1303.6,1371.4 1303.5,1374.3 1301.2,1374.3 1301.2,1368.2 1298.9,1368.2 1298.9,1367.7 1296.6,1367.7 1296.6,1364.1 1294.2,1364.1 1294.2,1365.3 1291.9,1365.3 1291.9,1371.8 1289.6,1371.8 1289.6,1373.7 1287.2,1373.7 1287.2,1375.2 1284.9,1375.2 1284.9,1373.8 1282.6,1373.8 1282.6,1370.6 1280.3,1370.6 1280.2,1370.0 1277.9,1370.0 1277.9,1368.9 1275.6,1368.9 1275.6,1378.3 1273.3,1378.3 1273.3,1375.1 1270.9,1375.1 1270.9,1371.1 1268.6,1371.1 1268.6,1368.9 1266.3,1368.9 1266.3,1371.6 1263.9,1371.6 1263.9,1372.5 1261.6,1372.5 1261.6,1373.9 1259.3,1373.9 1259.3,1375.0 1257.0,1375.0 1257.0,1374.0 1254.6,1374.0 1254.6,1379.8 1252.3,1379.8 1252.3,1390.3 1250.0,1390.3 1250.0,1384.2 1247.6,1384.2 1247.6,1389.0 1245.3,1389.0 1245.3,1378.6 1243.0,1378.6 1243.0,1379.0 1240.6,1379.0 1240.6,1377.9 1238.3,1377.9 1238.3,1376.7 1236.0,1376.7 1236.0,1380.8 1233.7,1380.8 1233.7,1393.3 1231.3,1393.3 1231.3,1377.9 1229.0,1377.9 1229.0,1375.9 1226.7,1375.9 1226.7,1378.6 1224.3,1378.6 1224.3,1386.0 1222.0,1386.0 1222.0,1388.2 1219.7,1388.2 1219.7,1377.6 1217.3,1377.6 1217.3,1383.0 1215.0,1383.0 1215.0,1376.4 1212.7,1376.4 1212.7,1375.5 1210.4,1375.5 1210.4,1373.2 1208.0,1373.2 1208.0,1372.7 1205.7,1372.7 1205.7,1378.0 1203.4,1378.0 1203.4,1374.6 1201.0,1374.6 1201.0,1379.2 1198.7,1379.2 1198.7,1377.6 1196.4,1377.6 1196.4,1373.5 1194.0,1373.5 1194.0,1377.8 1191.7,1377.8 1191.7,1374.2 1189.4,1374.2 1189.4,1383.7 1187.1,1383.7 1187.0,1387.7 1184.7,1387.7 1184.7,1377.1 1182.4,1377.1 1182.4,1372.1 1180.1,1372.1 1180.1,1369.5 1177.7,1369.5 1177.7,1365.8 1175.4,1365.8 1175.4,1368.9 1173.1,1368.9 1173.1,1372.9 1170.7,1372.9 1170.7,1383.2 1168.4,1383.2 1168.4,1383.4 1166.1,1383.4 1166.1,1375.5 1163.8,1375.5 1163.8,1373.9 1161.4,1373.9 1161.4,1376.0 1159.1,1376.0 1159.1,1377.1 1156.8,1377.1 1156.8,1375.4 1154.4,1375.4 1154.4,1373.2 1152.1,1373.2 1152.1,1367.5 1149.8,1367.5 1149.8,1367.7 1147.4,1367.7 1147.4,1374.4 1145.1,1374.4 1145.1,1379.1 1142.8,1379.1 1142.8,1386.2 1140.5,1386.2 1140.5,1391.9 1138.1,1391.9 1138.1,1394.5 1135.8,1394.5 1135.8,1373.0 1133.5,1373.0 1133.5,1391.4 1131.1,1391.4 1131.1,1378.3 1128.8,1378.3 1128.8,1375.4 1126.5,1375.4 1126.5,1378.7 1124.1,1378.7 1124.1,1380.5 1121.8,1380.5 1121.8,1375.0 1119.5,1375.0 1119.5,1383.7 1117.2,1383.7 1117.2,1389.9 1114.8,1389.9 1114.8,1375.1 1112.5,1375.1 1112.5,1384.5 1110.2,1384.5 1110.2,1391.7 1107.8,1391.7 1107.8,1387.9 1105.5,1387.9 1105.5,1378.1 1103.2,1378.1 1103.2,1377.3 1100.8,1377.3 1100.8,1386.8 1098.5,1386.8 1098.5,1396.2 1096.2,1396.2 1096.2,1407.8 1093.9,1407.8 1093.8,1419.5 1091.5,1419.5 1091.5,1436.8 1089.2,1436.8 1089.2,1500.0 1086.9,1500.0 1086.9,1500.0 1084.5,1500.0 1084.5,1372.1 1082.2,1372.1 1082.2,1375.6 1079.9,1375.6 1079.9,1376.3 1077.5,1376.3 1077.5,1380.1 1075.2,1380.1 1075.2,1375.6 1072.9,1375.6 1072.9,1375.1 1070.5,1375.1 1070.5,1370.7 1068.2,1370.7 1068.2,1367.0 1065.9,1367.0 1065.9,1366.9 1063.6,1366.9 1063.6,1377.2 1061.2,1377.2 1061.2,1379.7 1058.9,1379.7 1058.9,1374.2 1056.6,1374.2 1056.6,1380.2 1054.2,1380.2 1054.2,1375.8 1051.9,1375.8 1051.9,1370.0 1049.6,1370.0 1049.6,1370.8 1047.2,1370.8 1047.2,1371.6 1044.9,1371.6 1044.9,1380.5 1042.6,1380.5 1042.6,1389.1 1040.3,1389.1 1040.3,1384.2 1037.9,1384.2 1037.9,1391.7 1035.6,1391.7 1035.6,1395.0 1033.3,1395.0 1033.3,1378.0 1030.9,1378.0 1030.9,1370.8 1028.6,1370.8 1028.6,1379.3 1026.3,1379.3 1026.3,1375.0 1024.0,1375.0 1024.0,1374.6 1021.6,1374.6 1021.6,1377.2 1019.3,1377.2 1019.3,1370.8 1017.0,1370.8 1017.0,1379.6 1014.6,1379.6 1014.6,1384.0 1012.3,1384.0 1012.3,1378.3 1010.0,1378.3 1010.0,1386.1 1007.6,1386.1 1007.6,1369.2 1005.3,1369.2 1005.3,1365.0 1003.0,1365.0 1003.0,1369.0 1000.6,1369.0 1000.7,1374.1 998.3,1374.1 998.3,1368.4 996.0,1368.4 996.0,1372.4 993.7,1372.4 993.7,1375.3 991.3,1375.3 991.3,1379.9 989.0,1379.9 989.0,1378.6 986.7,1378.6 986.7,1371.8 984.3,1371.8 984.3,1373.1 982.0,1373.1 982.0,1381.6 979.7,1381.6 979.7,1371.9 977.4,1371.9 977.4,1369.6 975.0,1369.6 975.0,1371.3 972.7,1371.3 972.7,1370.8 970.4,1370.8 970.4,1378.4 968.0,1378.4 968.0,1388.6 965.7,1388.6 965.7,1394.7 963.4,1394.7 963.4,1383.4 961.0,1383.4 961.0,1379.1 958.7,1379.1 958.7,1402.3 956.4,1402.3 956.4,1385.6 954.0,1385.6 954.1,1380.6 951.7,1380.6 951.7,1376.2 949.4,1376.2 949.4,1372.0 947.1,1372.0 947.1,1376.6 944.7,1376.6 944.7,1386.1 942.4,1386.1 942.4,1387.5 940.1,1387.5 940.1,1380.2 937.7,1380.2 937.7,1371.3 935.4,1371.3 935.4,1368.6 933.1,1368.6 933.1,1376.4 930.8,1376.4 930.8,1381.5 928.4,1381.5 928.4,1368.4 926.1,1368.4 926.1,1370.6 923.8,1370.6 923.8,1375.2 921.4,1375.2 921.4,1382.4 919.1,1382.4 919.1,1371.5 916.8,1371.5 916.8,1376.7 914.4,1376.7 914.4,1381.0 912.1,1381.0 912.1,1392.1 909.8,1392.1 909.8,1387.3 907.5,1387.3 907.5,1376.9 905.1,1376.9 905.1,1379.8 902.8,1379.8 902.8,1373.8 900.5,1373.8 900.5,1375.7 898.1,1375.7 898.1,1376.8 895.8,1376.8 895.8,1369.4 893.5,1369.4 893.5,1365.9 891.1,1365.9 891.1,1379.6 888.8,1379.6 888.8,1375.3 886.5,1375.3 886.5,1365.1 884.1,1365.1 884.2,1367.0 881.8,1367.0 881.8,1368.6 879.5,1368.6 879.5,1372.0 877.2,1372.0 877.2,1372.5 874.8,1372.5 874.8,1369.8 872.5,1369.8 872.5,1380.9 870.2,1380.9 870.2,1386.2 867.8,1386.2 867.8,1376.1 865.5,1376.1 865.5,1371.4 863.2,1371.4 863.2,1378.5 860.9,1378.5 860.9,1379.7 858.5,1379.7 858.5,1370.7 856.2,1370.7 856.2,1371.2 853.9,1371.2 853.9,1372.2 851.5,1372.2 851.5,1370.1 849.2,1370.1 849.2,1368.7 846.9,1368.7 846.9,1368.2 844.5,1368.2 844.5,1367.6 842.2,1367.6 842.2,1373.2 839.9,1373.2 839.9,1372.6 837.5,1372.6 837.6,1379.1 835.2,1379.1 835.2,1374.2 832.9,1374.2 832.9,1368.5 830.6,1368.5 830.6,1365.2 828.2,1365.2 828.2,1390.5 825.9,1390.5 825.9,1393.2 823.6,1393.2 823.6,1374.1 821.2,1374.1 821.2,1377.1 818.9,1377.1 818.9,1380.1 816.6,1380.1 816.6,1373.6 814.2,1373.6 814.2,1378.2 811.9,1378.2 811.9,1384.7 809.6,1384.7 809.6,1370.0 807.3,1370.0 807.3,1368.6 804.9,1368.6 804.9,1375.5 802.6,1375.5 802.6,1373.5 800.3,1373.5 800.3,1369.0 797.9,1369.0 797.9,1372.5 795.6,1372.5 795.6,1380.0 793.3,1380.0 793.3,1377.9 791.0,1377.9 791.0,1372.2 788.6,1372.2 788.6,1378.8 786.3,1378.8 786.3,1375.7 784.0,1375.7 784.0,1376.9 781.6,1376.9 781.6,1375.7 779.3,1375.7 779.3,1376.7 777.0,1376.7 777.0,1375.2 774.6,1375.2 774.6,1383.1 772.3,1383.1 772.3,1380.5 770.0,1380.5 770.0,1385.8 767.6,1385.8 767.7,1372.8 765.3,1372.8 765.3,1380.4 763.0,1380.4 763.0,1379.6 760.7,1379.6 760.7,1371.9 758.3,1371.9 758.3,1369.9 756.0,1369.9 756.0,1371.1 753.7,1371.1 753.7,1391.3 751.3,1391.3 751.3,1386.1 749.0,1386.1 749.0,1387.9 746.7,1387.9 746.7,1366.3 744.4,1366.3 744.4,1373.9 742.0,1373.9 742.0,1379.8 739.7,1379.8 739.7,1377.5 737.4,1377.5 737.4,1379.5 735.0,1379.5 735.0,1375.7 732.7,1375.7 732.7,1375.6 730.4,1375.6 730.4,1381.3 728.0,1381.3 728.0,1382.8 725.7,1382.8 725.7,1389.0 723.4,1389.0 723.4,1387.6 721.0,1387.6 721.1,1380.9 718.7,1380.9 718.7,1388.1 716.4,1388.1 716.4,1389.1 714.1,1389.1 714.1,1382.0 711.7,1382.0 711.7,1372.7 709.4,1372.7 709.4,1380.0 707.1,1380.0 707.1,1382.0 704.7,1382.0 704.7,1382.7 702.4,1382.7 702.4,1373.4 700.1,1373.4 700.1,1371.5 697.8,1371.5 697.8,1373.5 695.4,1373.5 695.4,1370.3 693.1,1370.3 693.1,1367.1 690.8,1367.1 690.8,1367.8 688.4,1367.8 688.4,1376.3 686.1,1376.3 686.1,1380.8 683.8,1380.8 683.8,1376.0 681.4,1376.0 681.4,1382.4 679.1,1382.4 679.1,1382.1 676.8,1382.1 676.8,1372.7 674.5,1372.7 674.5,1374.3 672.1,1374.3 672.1,1376.2 669.8,1376.2 669.8,1376.1 667.5,1376.1 667.5,1369.1 665.1,1369.1 665.1,1374.6 662.8,1374.6 662.8,1378.9 660.5,1378.9 660.5,1393.5 658.1,1393.5 658.1,1386.9 655.8,1386.9 655.8,1382.9 653.5,1382.9 653.5,1379.5 651.1,1379.5 651.2,1377.2 648.8,1377.2 648.8,1367.9 646.5,1367.9 646.5,1368.9 644.2,1368.9 644.2,1380.4 641.8,1380.4 641.8,1375.6 639.5,1375.6 639.5,1376.7 637.2,1376.7 637.2,1371.3 634.8,1371.3 634.8,1372.9 632.5,1372.9 632.5,1377.1 630.2,1377.1 630.2,1382.3 627.9,1382.3 627.9,1381.4 625.5,1381.4 625.5,1371.1 623.2,1371.1 623.2,1371.3 620.9,1371.3 620.9,1374.5 618.5,1374.5 618.5,1373.8 616.2,1373.8 616.2,1367.3 613.9,1367.3 613.9,1368.8 611.5,1368.8 611.5,1375.4 609.2,1375.4 609.2,1385.3 606.9,1385.3 606.9,1383.9 604.6,1383.9 604.6,1369.5 602.2,1369.5 602.2,1378.5 599.9,1378.5 599.9,1376.0 597.6,1376.0 597.6,1375.4 595.2,1375.4 595.2,1370.8 592.9,1370.8 592.9,1379.0 590.6,1379.0 590.6,1378.0 588.2,1378.0 588.2,1388.5 585.9,1388.5 585.9,1384.8 583.6,1384.8 583.6,1390.4 581.2,1390.4 581.3,1380.2 578.9,1380.2 578.9,1370.2 576.6,1370.2 576.6,1374.2 574.3,1374.2 574.3,1381.1 571.9,1381.1 571.9,1381.4 569.6,1381.4 569.6,1378.3 567.3,1378.3 567.3,1387.1 564.9,1387.1 564.9,1387.8 562.6,1387.8 562.6,1372.2 560.3,1372.2 560.3,1367.8 558.0,1367.8 558.0,1376.2 555.6,1376.2 555.6,1382.0 553.3,1382.0 553.3,1391.8 551.0,1391.8 551.0,1393.6 548.6,1393.6 548.6,1370.6 546.3,1370.6 546.3,1373.5 544.0,1373.5 544.0,1378.9 541.6,1378.9 541.6,1367.5 539.3,1367.5 539.3,1376.1 537.0,1376.1 537.0,1378.5 534.6,1378.5 534.7,1380.8 532.3,1380.8 532.3,1385.2 530.0,1385.2 530.0,1386.0 527.7,1386.0 527.7,1375.7 525.3,1375.7 525.3,1373.5 523.0,1373.5 523.0,1376.2 520.7,1376.2 520.7,1386.1 518.3,1386.1 518.3,1376.3 516.0,1376.3 516.0,1371.8 513.7,1371.8 513.7,1381.1 511.4,1381.1 511.3,1390.5 509.0,1390.5 509.0,1372.5 506.7,1372.5 506.7,1367.4 504.4,1367.4 504.4,1367.9 502.0,1367.9 502.0,1370.4 499.7,1370.4 499.7,1369.1 497.4,1369.1 497.4,1367.8 495.0,1367.8 495.0,1368.6 492.7,1368.6 492.7,1375.4 490.4,1375.4 490.4,1381.8 488.1,1381.8 488.1,1373.2 485.7,1373.2 485.7,1387.4 483.4,1387.4 483.4,1389.0 481.1,1389.0 481.1,1384.3 478.7,1384.3 478.7,1385.6 476.4,1385.6 476.4,1385.9 474.1,1385.9 474.1,1379.7 471.7,1379.7 471.7,1373.6 469.4,1373.6 469.4,1370.9 467.1,1370.9 467.1,1377.0 464.8,1377.0 464.7,1376.8 462.4,1376.8 462.4,1379.0 460.1,1379.0 460.1,1385.5 457.8,1385.5 457.8,1380.3 455.4,1380.3 455.4,1385.3 453.1,1385.3 453.1,1376.0 450.8,1376.0 450.8,1373.5 448.4,1373.5 448.4,1374.4 446.1,1374.4 446.1,1373.3 443.8,1373.3 443.8,1367.7 441.5,1367.7 441.4,1377.3 439.1,1377.3 439.1,1389.9 436.8,1389.9 436.8,1387.5 434.5,1387.5 434.5,1368.6 432.1,1368.6 432.1,1372.8 429.8,1372.8 429.8,1383.1 427.5,1383.1 427.5,1377.8 425.1,1377.8 425.1,1374.6 422.8,1374.6 422.8,1375.7 420.5,1375.7 420.5,1378.2 418.1,1378.2 418.2,1383.1 415.8,1383.1 415.8,1385.9 413.5,1385.9 413.5,1370.0 411.2,1370.0 411.2,1370.1 408.8,1370.1 408.8,1374.2 406.5,1374.2 406.5,1377.7 404.2,1377.7 404.2,1377.9 401.8,1377.9 401.8,1399.0 399.5,1399.0 399.5,1395.4 397.2,1395.4 397.2,1378.2 394.9,1378.2 394.8,1367.5 392.5,1367.5 392.5,1378.7 390.2,1378.7 390.2,1377.0 387.9,1377.0 387.9,1373.0 385.5,1373.0 385.5,1374.9 383.2,1374.9 383.2,1382.2 380.9,1382.2 380.9,1371.0 378.5,1371.0 378.5,1373.2 376.2,1373.2 376.2,1373.9 373.9,1373.9 373.9,1378.8 371.6,1378.8 371.6,1382.6 369.2,1382.6 369.2,1389.2 366.9,1389.2 366.9,1383.6 364.6,1383.6 364.6,1383.3 362.2,1383.3 362.2,1378.1 359.9,1378.1 359.9,1373.9 357.6,1373.9 357.6,1374.8 355.2,1374.8 355.2,1374.4 352.9,1374.4 352.9,1378.2 350.6,1378.2 350.6,1380.7 348.2,1380.7 348.2,1375.6 345.9,1375.6 345.9,1368.8 343.6,1368.8 343.6,1366.5 341.3,1366.5 341.3,1388.6 338.9,1388.6 338.9,1385.1 336.6,1385.1 336.6,1392.0 334.3,1392.0 334.3,1373.0 331.9,1373.0 331.9,1365.5 329.6,1365.5 329.6,1365.3 327.3,1365.3 327.3,1371.3 325.0,1371.3 324.9,1376.2 322.6,1376.2 322.6,1373.6 320.3,1373.6 320.3,1375.8 318.0,1375.8 318.0,1372.2 315.6,1372.2 315.6,1381.2 313.3,1381.2 313.3,1384.4 311.0,1384.4 311.0,1384.3 308.6,1384.3 308.6,1388.9 306.3,1388.9 306.3,1389.0 304.0,1389.0 304.0,1373.6 301.6,1373.6 301.7,1378.4 299.3,1378.4 299.3,1383.3 297.0,1383.3 297.0,1377.1 294.7,1377.1 294.7,1377.9 292.3,1377.9 292.3,1398.9 290.0,1398.9 290.0,1389.0 287.7,1389.0 287.7,1373.6 285.3,1373.6 285.3,1379.2 283.0,1379.2 283.0,1374.6 280.7,1374.6 280.7,1378.8 278.4,1378.8 278.3,1380.0 276.0,1380.0 276.0,1379.1 273.7,1379.1 273.7,1371.3 271.4,1371.3 271.4,1367.2 269.0,1367.2 269.0,1374.9 266.7,1374.9 266.7,1381.1 264.4,1381.1 264.4,1376.5 262.0,1376.5 262.0,1381.7 259.7,1381.7 259.7,1376.6 257.4,1376.6 257.4,1371.4 255.1,1371.4 255.1,1374.2 252.7,1374.2 252.7,1370.7 250.4,1370.7 250.4,1375.2 248.1,1375.2 248.1,1371.9 245.7,1371.9 245.7,1382.1 243.4,1382.1 243.4,1377.5 241.1,1377.5 241.1,1384.2 238.7,1384.2 238.7,1384.3 236.4,1384.3 236.4,1387.5 234.1,1387.5 234.1,1380.4 231.8,1380.4 231.8,1380.7 229.4,1380.7 229.4,1381.8 227.1,1381.8 227.1,1370.0 224.8,1370.0 224.8,1366.8 222.4,1366.8 222.4,1367.6 220.1,1367.6 220.1,1372.3 217.8,1372.3 217.8,1380.6 215.4,1380.6 215.4,1384.4 213.1,1384.4 213.1,1373.7 210.8,1373.7 210.8,1371.2 208.4,1371.2 208.5,1369.0 206.1,1369.0 206.1,1368.7 203.8,1368.7 203.8,1372.5 201.5,1372.5 201.5,1370.7 199.1,1370.7 199.1,1374.5 196.8,1374.5 196.8,1380.8 194.5,1380.8 194.5,1378.0 192.1,1378.0 192.1,1374.8 189.8,1374.8 189.8,1379.8 187.5,1379.8 187.5,1379.0 185.2,1379.0 185.2,1376.3 182.8,1376.3 182.8,1378.2 180.5,1378.2 180.5,1382.1 178.2,1382.1 178.2,1372.9 175.8,1372.9 175.8,1368.3 173.5,1368.3 173.5,1368.8 171.2,1368.8 171.2,1378.8 168.8,1378.8 168.8,1377.1 166.5,1377.1 166.5,1375.9 164.2,1375.9 164.2,1381.2 161.9,1381.2 161.9,1381.1 159.5,1381.1 159.5,1376.4 157.2,1376.4 157.2,1379.3 154.9,1379.3 154.9,1364.9 152.5,1364.9 152.5,1373.3 150.2,1373.3 150.2,1381.5 147.9,1381.5 147.9,1379.5 145.5,1379.5 145.5,1369.6 143.2,1369.6 143.2,1370.7 140.9,1370.7 140.9,1371.4 138.6,1371.4 138.6,1372.0 136.2,1372.0 136.2,1369.0 133.9,1369.0 133.9,1368.7 131.6,1368.7 131.6,1366.3 129.2,1366.3 129.2,1390.7 126.9,1390.7"/>
<line x1="244.80" y1="1996.60" x2="244.80" y2="1983.80" stroke="#000" stroke-width="1.8" stroke-linecap="butt"/>
<line x1="244.80" y1="1655.60" x2="244.80" y2="1668.40" stroke="#000" stroke-width="1.8" stroke-linecap="butt"/>
<line x1="364.90" y1="1996.60" x2="364.90" y2="1983.80" stroke="#000" stroke-width="1.8" stroke-linecap="butt"/>
<line x1="364.90" y1="1655.60" x2="364.90" y2="1668.40" stroke="#000" stroke-width="1.8" stroke-linecap="butt"/>
<line x1="485.00" y1="1996.60" x2="485.00" y2="1983.80" stroke="#000" stroke-width="1.8" stroke-linecap="butt"/>
<line x1="485.00" y1="1655.60" x2="485.00" y2="1668.40" stroke="#000" stroke-width="1.8" stroke-linecap="butt"/>
<line x1="605.10" y1="1996.60" x2="605.10" y2="1983.80" stroke="#000" stroke-width="1.8" stroke-linecap="butt"/>
<line x1="605.10" y1="1655.60" x2="605.10" y2="1668.40" stroke="#000" stroke-width="1.8" stroke-linecap="butt"/>
<line x1="725.20" y1="1996.60" x2="725.20" y2="1983.80" stroke="#000" stroke-width="1.8" stroke-linecap="butt"/>
<line x1="725.20" y1="1655.60" x2="725.20" y2="1668.40" stroke="#000" stroke-width="1.8" stroke-linecap="butt"/>
<line x1="845.30" y1="1996.60" x2="845.30" y2="1983.80" stroke="#000" stroke-width="1.8" stroke-linecap="butt"/>
<line x1="845.30" y1="1655.60" x2="845.30" y2="1668.40" stroke="#000" stroke-width="1.8" stroke-linecap="butt"/>
<line x1="965.40" y1="1996.60" x2="965.40" y2="1983.80" stroke="#000" stroke-width="1.8" stroke-linecap="butt"/>
<line x1="965.40" y1="1655.60" x2="965.40" y2="1668.40" stroke="#000" stroke-width="1.8" stroke-linecap="butt"/>
<line x1="1085.50" y1="1996.60" x2="1085.50" y2="1983.80" stroke="#000" stroke-width="1.8" stroke-linecap="butt"/>
<line x1="1085.50" y1="1655.60" x2="1085.50" y2="1668.40" stroke="#000" stroke-width="1.8" stroke-linecap="butt"/>
<line x1="1205.60" y1="1996.60" x2="1205.60" y2="1983.80" stroke="#000" stroke-width="1.8" stroke-linecap="butt"/>
<line x1="1205.60" y1="1655.60" x2="1205.60" y2="1668.40" stroke="#000" stroke-width="1.8" stroke-linecap="butt"/>
<line x1="126.40" y1="1826.10" x2="139.20" y2="1826.10" stroke="#000" stroke-width="1.8" stroke-linecap="butt"/>
<line x1="1326.10" y1="1826.10" x2="1313.30" y2="1826.10" stroke="#000" stroke-width="1.8" stroke-linecap="butt"/>
<rect x="126.4" y="1655.6" width="1199.7" height="341" fill="none" stroke="#000" stroke-width="2.6"/>
<polyline fill="none" stroke="#0000ff" stroke-width="1.9" stroke-linejoin="round" points="126.4,1996.6 126.4,1993.3 126.9,1854.8 132.1,1781.5 136.7,1940.6 141.8,1812.4 144.7,1837.6 147.7,1750.6 149.3,1855.9 152.5,1862.3 153.9,1953.2 157.1,1929.2 158.5,1817.0 161.7,1896.0 166.2,1803.3 169.2,1874.7 174.0,1764.3 178.4,1865.1 180.0,1849.1 183.2,1899.4 187.8,1775.3 191.0,1814.7 195.6,1930.3 201.3,1846.3 204.7,1904.0 206.5,1894.8 209.3,1896.7 212.3,1876.5 213.9,1904.0 217.1,1894.8 218.7,1940.6 221.7,1892.6 223.3,1975.0 226.0,1849.1 228.1,1926.9 233.8,1773.5 235.6,1885.7 238.6,1820.4 240.2,1823.9 244.8,1802.8 247.8,1885.7 250.7,1858.2 252.3,1890.3 255.1,1917.7 256.9,1961.2 259.9,1899.9 261.7,1949.8 264.2,1936.1 266.5,1915.5 269.3,1907.4 272.9,1932.6 274.1,1923.5 277.1,1962.4 281.6,1835.3 283.7,1865.1 286.0,1888.0 287.8,1945.2 294.0,1920.0 298.6,1870.8 300.9,1899.4 303.2,1921.2 304.8,1862.8 307.7,1968.6 312.5,1862.8 315.8,1928.7 317.4,1925.8 320.3,1889.1 321.7,1909.7 324.7,1872.4 326.7,1932.6 329.3,1954.8 330.9,1938.3 334.1,1937.9 337.0,1973.1 338.9,1925.8 341.6,1944.1 343.5,1887.5 350.8,1965.4 354.0,1937.2 355.6,1881.1 358.6,1905.1 360.2,1953.2 363.1,1912.7 365.0,1912.0 368.0,1832.3 369.1,1941.8 372.5,1960.8 375.7,1906.3 377.3,1955.5 380.3,1956.7 381.9,1870.8 384.9,1940.6 386.3,1957.8 389.5,1817.0 391.1,1876.5 394.3,1989.9 397.3,1950.9 398.9,1886.8 401.8,1853.6 403.4,1921.2 406.4,1963.1 411.0,1913.2 415.6,1975.0 418.6,1870.1 420.0,1965.8 421.8,1945.2 424.8,1872.4 426.4,1926.9 429.4,1965.8 432.6,1952.1 434.2,1875.4 437.2,1898.3 440.1,1937.2 441.8,1977.7 445.0,1838.1 446.6,1909.7 449.5,1918.2 451.1,1970.4 454.3,1945.2 455.7,1941.1 458.9,1877.0 461.9,1910.9 463.5,1976.8 466.5,1959.0 468.1,1927.4 471.1,1931.5 472.7,1984.1 475.9,1986.0 478.8,1963.5 480.4,1912.0 483.4,1937.2 485.0,1972.2 488.2,1970.4 489.8,1897.1 492.8,1906.8 494.2,1978.4 497.4,1945.7 500.4,1959.4 502.0,1907.4 504.9,1965.8 506.5,1904.0 509.5,1871.9 512.7,1945.2 514.1,1986.9 517.3,1929.2 518.9,1881.6 521.9,1891.4 523.5,1956.2 526.5,1929.6 528.1,1925.8 531.0,1944.1 532.6,1947.0 535.6,1940.2 537.2,1988.7 540.4,1940.6 543.6,1910.9 545.0,1962.4 548.0,1950.9 549.6,1975.0 552.6,1975.4 554.2,1949.8 557.4,1927.4 559.0,1961.2 561.9,1964.0 564.9,1945.7 566.5,1957.8 569.5,1949.3 571.1,1881.1 574.1,1967.0 578.9,1890.3 583.7,1945.2 586.7,1939.5 588.3,1981.4 591.3,1941.8 592.9,1962.4 595.8,1945.2 597.4,1915.0 600.4,1910.9 603.6,1988.7 605.0,1970.4 608.2,1963.5 609.8,1916.6 614.4,1970.4 617.6,1904.5 619.0,1956.7 621.9,1987.6 625.1,1925.8 626.7,1975.0 629.9,1955.5 631.3,1955.5 634.5,1972.2 639.1,1936.5 640.7,1945.2 643.7,1981.4 646.7,1944.8 648.3,1964.0 651.5,1936.7 653.1,1953.2 656.0,1956.7 657.7,1899.4 660.9,1972.7 662.2,1983.0 668.4,1921.2 670.0,1965.8 673.0,1950.9 677.6,1983.0 679.2,1986.9 682.4,1951.6 686.7,1975.0 689.9,1933.3 691.5,1959.4 694.5,1899.4 696.1,1956.7 699.1,1937.2 700.7,1944.1 703.9,1969.3 706.9,1964.0 708.5,1967.0 711.5,1959.0 713.1,1942.9 716.0,1955.5 717.6,1971.5 721.1,1950.9 723.4,1954.4 725.7,1953.2 729.6,1963.1 732.6,1989.9 734.9,1976.8 736.5,1978.4 739.2,1989.9 742.4,1969.3 747.0,1945.7 749.8,1956.7 751.6,1986.0 755.7,1973.8 758.7,1981.8 760.8,1959.0 763.7,1952.1 766.5,1979.6 768.3,1991.5 771.5,1936.5 773.1,1977.7 775.9,1973.8 777.7,1956.7 780.7,1953.2 785.5,1972.7 789.8,1972.2 793.0,1986.0 794.6,1964.7 797.6,1988.7 799.2,1979.1 802.0,1978.4 803.8,1967.0 806.8,1959.6 809.7,1960.8 811.6,1956.7 814.8,1989.2 816.6,1981.8 819.4,1956.7 821.0,1955.5 825.5,1961.2 828.5,1989.9 831.5,1956.7 833.1,1974.5 836.1,1969.9 837.5,1971.5 840.7,1963.1 842.3,1976.1 845.0,1973.8 846.8,1967.7 849.8,1988.7 852.8,1986.0 854.6,1956.7 857.4,1980.7 859.2,1973.8 863.8,1983.0 866.8,1983.0 871.3,1991.5 874.5,1972.2 875.9,1986.9 879.1,1978.4 880.5,1979.1 883.7,1988.7 885.3,1959.4 888.5,1989.9 889.7,1988.3 893.1,1964.7 895.8,1989.9 897.9,1975.0 900.9,1977.7 902.5,1975.4 907.3,1979.6 910.0,1972.2 913.2,1989.9 914.8,1991.5 918.0,1983.0 919.6,1988.7 922.4,1987.6 924.2,1972.2 927.2,1986.9 931.8,1983.0 934.8,1985.3 936.4,1964.0 944.4,1992.8 945.7,1993.3 950.1,1983.0 953.1,1985.3 956.3,1975.4 957.9,1983.7 960.6,1975.4 962.7,1983.0 965.4,1984.1 966.8,1992.1 970.0,1993.3 971.6,1964.0 977.6,1987.6 982.4,1993.3 983.8,1986.0 987.0,1993.3 988.3,1992.8 991.5,1978.4 993.1,1990.5 997.7,1992.1 999.3,1991.5 1003.9,1984.1 1005.5,1989.9 1008.9,1986.9 1010.3,1987.6 1013.5,1991.5 1016.5,1980.0 1018.1,1989.9 1019.5,1988.3 1022.7,1989.9 1024.5,1989.2 1027.3,1984.6 1030.0,1985.3 1032.4,1985.0 1034.8,1986.1 1037.2,1985.2 1039.6,1990.0 1042.0,1985.2 1044.4,1987.1 1046.8,1987.2 1049.2,1984.6 1051.6,1990.4 1054.0,1989.4 1056.4,1984.1 1058.8,1988.3 1061.2,1983.9 1063.6,1987.4 1066.0,1990.7 1068.4,1991.1 1070.8,1990.2 1073.2,1991.3 1075.6,1984.6 1078.0,1985.6 1080.4,1987.4 1082.8,1986.4 1085.2,1987.1 1087.6,1988.8 1090.0,1991.3 1092.4,1991.6 1094.8,1992.1 1097.2,1985.5 1099.6,1992.0 1102.0,1988.9 1104.4,1986.0 1106.8,1989.0 1109.2,1984.9 1111.6,1986.2 1114.0,1987.8 1116.4,1986.9 1118.8,1986.1 1121.2,1985.0 1123.6,1987.3 1126.0,1992.6 1128.4,1992.7 1130.8,1985.4 1133.2,1985.1 1135.6,1988.1 1138.0,1979.7 1140.4,1987.5 1142.8,1992.2 1145.2,1988.7 1147.6,1990.2 1150.0,1989.6 1152.4,1992.7 1154.8,1988.7 1157.2,1987.1 1159.6,1993.1 1162.0,1985.1 1164.4,1984.5 1166.8,1985.0 1169.2,1989.2 1171.6,1988.3 1174.0,1988.2 1176.4,1991.0 1178.8,1987.6 1181.2,1990.4 1183.6,1988.6 1186.0,1988.7 1188.4,1988.2 1190.8,1986.7 1193.2,1991.7 1195.6,1987.7 1198.0,1987.8 1200.4,1989.5 1202.8,1986.8 1205.2,1988.7 1207.6,1989.6 1210.0,1987.5 1212.4,1991.4 1214.8,1989.8 1217.2,1987.2 1219.6,1987.8 1222.0,1993.0 1224.4,1988.6 1226.8,1991.6 1229.2,1989.2 1231.6,1988.8 1234.0,1988.7 1236.4,1989.9 1238.8,1989.9 1241.2,1981.1 1243.6,1993.7 1246.0,1990.2 1248.4,1994.2 1250.8,1992.8 1253.2,1992.2 1255.6,1989.2 1258.0,1983.4 1260.4,1989.3 1262.8,1987.4 1265.2,1992.6 1267.6,1994.3 1270.0,1985.8 1272.4,1988.6 1274.8,1992.5 1277.2,1990.6 1279.6,1992.2 1282.0,1989.4 1284.4,1991.2 1286.8,1990.3 1289.2,1991.8 1291.6,1988.9 1294.0,1994.9 1296.4,1988.7 1298.8,1990.5 1301.2,1989.8 1303.6,1991.1 1306.0,1990.8 1308.4,1988.8 1310.8,1988.4 1313.2,1989.7 1315.6,1990.4 1318.0,1990.8 1320.4,1992.7 1322.8,1989.6 1325.2,1989.1 1326.1,1989.6"/>
<text x="1274.15" y="1064.70" font-size="41.5" textLength="19.30" lengthAdjust="spacingAndGlyphs">0</text>
<text x="1274.15" y="933.95" font-size="41.5" textLength="19.30" lengthAdjust="spacingAndGlyphs">1</text>
<text x="1274.15" y="805.95" font-size="41.5" textLength="19.30" lengthAdjust="spacingAndGlyphs">2</text>
<text x="1274.15" y="677.95" font-size="41.5" textLength="19.30" lengthAdjust="spacingAndGlyphs">3</text>
<text x="1274.15" y="549.95" font-size="41.5" textLength="19.30" lengthAdjust="spacingAndGlyphs">4</text>
<text x="1274.15" y="421.95" font-size="41.5" textLength="19.30" lengthAdjust="spacingAndGlyphs">5</text>
<text x="1274.15" y="293.95" font-size="41.5" textLength="19.30" lengthAdjust="spacingAndGlyphs">6</text>
<text x="1274.15" y="165.95" font-size="41.5" textLength="19.30" lengthAdjust="spacingAndGlyphs">7</text>
<text x="73.95" y="168.50" font-size="41.5" textLength="19.30" lengthAdjust="spacingAndGlyphs">0</text>
<text x="73.95" y="245.88" font-size="41.5" textLength="19.30" lengthAdjust="spacingAndGlyphs">1</text>
<text x="64.95" y="323.26" font-size="41.5" textLength="50.58" lengthAdjust="spacingAndGlyphs">1.6</text>
<text x="73.95" y="400.64" font-size="41.5" textLength="19.30" lengthAdjust="spacingAndGlyphs">2</text>
<text x="64.95" y="478.02" font-size="41.5" textLength="50.58" lengthAdjust="spacingAndGlyphs">2.6</text>
<text x="73.95" y="555.40" font-size="41.5" textLength="19.30" lengthAdjust="spacingAndGlyphs">3</text>
<text x="64.95" y="632.78" font-size="41.5" textLength="50.58" lengthAdjust="spacingAndGlyphs">3.6</text>
<text x="73.95" y="710.16" font-size="41.5" textLength="19.30" lengthAdjust="spacingAndGlyphs">4</text>
<text x="64.95" y="787.54" font-size="41.5" textLength="50.58" lengthAdjust="spacingAndGlyphs">4.6</text>
<text x="73.95" y="864.92" font-size="41.5" textLength="19.30" lengthAdjust="spacingAndGlyphs">5</text>
<text x="64.95" y="942.30" font-size="41.5" textLength="50.58" lengthAdjust="spacingAndGlyphs">5.6</text>
<text x="73.95" y="1019.68" font-size="41.5" textLength="19.30" lengthAdjust="spacingAndGlyphs">6</text>
<text x="118.11" y="1091.90" font-size="41.5" textLength="19.09" lengthAdjust="spacingAndGlyphs">0</text>
<text x="287.82" y="1091.90" font-size="41.5" textLength="78.85" lengthAdjust="spacingAndGlyphs">1000</text>
<text x="487.93" y="1091.90" font-size="41.5" textLength="78.85" lengthAdjust="spacingAndGlyphs">2000</text>
<text x="690.18" y="1091.90" font-size="41.5" textLength="78.85" lengthAdjust="spacingAndGlyphs">3000</text>
<text x="890.78" y="1091.90" font-size="41.5" textLength="78.85" lengthAdjust="spacingAndGlyphs">4000</text>
<text x="1093.48" y="1091.90" font-size="41.5" textLength="78.85" lengthAdjust="spacingAndGlyphs">5000</text>
<text x="509.43" y="1141.40" font-size="41.5" textLength="244.32" lengthAdjust="spacingAndGlyphs">Frequency[Hz]</text>
<text transform="translate(37.70,638.02) rotate(-90)" font-size="41.5" textLength="123.44" lengthAdjust="spacingAndGlyphs">Level k</text>
<text x="115.19" y="70.80" font-size="41.5" textLength="148.49" lengthAdjust="spacingAndGlyphs">fb-kurt.2</text>
<text x="276.52" y="70.80" font-size="41.5" textLength="10.83" lengthAdjust="spacingAndGlyphs">-</text>
<text x="302.37" y="70.80" font-size="41.5" textLength="28.01" lengthAdjust="spacingAndGlyphs">K</text>
<text x="334.30" y="87.40" font-size="31.5" textLength="52.66" lengthAdjust="spacingAndGlyphs">max</text>
<text x="389.07" y="70.80" font-size="41.5" textLength="72.65" lengthAdjust="spacingAndGlyphs">=7.3</text>
<text x="476.76" y="70.80" font-size="41.5" textLength="37.02" lengthAdjust="spacingAndGlyphs">@</text>
<text x="526.20" y="70.80" font-size="41.5" textLength="71.97" lengthAdjust="spacingAndGlyphs">level</text>
<text x="613.10" y="70.80" font-size="41.5" textLength="28.04" lengthAdjust="spacingAndGlyphs">6,</text>
<text x="655.86" y="70.80" font-size="41.5" textLength="76.06" lengthAdjust="spacingAndGlyphs">Bw=</text>
<text x="746.46" y="70.80" font-size="41.5" textLength="167.54" lengthAdjust="spacingAndGlyphs">78.125Hz,</text>
<text x="926.74" y="70.80" font-size="41.5" textLength="11.91" lengthAdjust="spacingAndGlyphs">f</text>
<text x="939.32" y="87.40" font-size="31.5" textLength="13.66" lengthAdjust="spacingAndGlyphs">c</text>
<text x="954.68" y="70.80" font-size="41.5" textLength="238.02" lengthAdjust="spacingAndGlyphs">=2617.1875Hz</text>
<text x="3.93" y="47.00" font-size="56" textLength="61.19" lengthAdjust="spacingAndGlyphs">(a)</text>
<text x="1.76" y="1160.90" font-size="56" textLength="63.34" lengthAdjust="spacingAndGlyphs">(b)</text>
<text x="3.12" y="1615.50" font-size="56" textLength="61.40" lengthAdjust="spacingAndGlyphs">(c)</text>
<text x="117.98" y="1573.70" font-size="35.5" textLength="17.04" lengthAdjust="spacingAndGlyphs">0</text>
<text x="223.90" y="1573.70" font-size="35.5" textLength="42.60" lengthAdjust="spacingAndGlyphs">0.5</text>
<text x="356.78" y="1573.70" font-size="35.5" textLength="17.04" lengthAdjust="spacingAndGlyphs">1</text>
<text x="464.10" y="1573.70" font-size="35.5" textLength="42.60" lengthAdjust="spacingAndGlyphs">1.5</text>
<text x="596.98" y="1573.70" font-size="35.5" textLength="17.04" lengthAdjust="spacingAndGlyphs">2</text>
<text x="704.30" y="1573.70" font-size="35.5" textLength="42.60" lengthAdjust="spacingAndGlyphs">2.5</text>
<text x="837.18" y="1573.70" font-size="35.5" textLength="17.04" lengthAdjust="spacingAndGlyphs">3</text>
<text x="944.50" y="1573.70" font-size="35.5" textLength="42.60" lengthAdjust="spacingAndGlyphs">3.5</text>
<text x="1077.38" y="1573.70" font-size="35.5" textLength="17.04" lengthAdjust="spacingAndGlyphs">4</text>
<text x="1184.70" y="1573.70" font-size="35.5" textLength="42.60" lengthAdjust="spacingAndGlyphs">4.5</text>
<text x="1317.58" y="1573.70" font-size="35.5" textLength="17.04" lengthAdjust="spacingAndGlyphs">5</text>
<text x="59.94" y="1196.00" font-size="35.5" textLength="59.68" lengthAdjust="spacingAndGlyphs">0.05</text>
<text x="102.61" y="1372.70" font-size="35.5" textLength="17.53" lengthAdjust="spacingAndGlyphs">0</text>
<text x="49.04" y="1550.70" font-size="35.5" textLength="71.08" lengthAdjust="spacingAndGlyphs">-0.05</text>
<text x="669.70" y="1609.90" font-size="35.5" textLength="106.04" lengthAdjust="spacingAndGlyphs">Time[s]</text>
<text transform="translate(31.00,1430.60) rotate(-90)" font-size="35.5" textLength="152.86" lengthAdjust="spacingAndGlyphs">Amplitude</text>
<text x="117.97" y="2032.80" font-size="35.5" textLength="16.86" lengthAdjust="spacingAndGlyphs">0</text>
<text x="228.34" y="2032.80" font-size="35.5" textLength="33.73" lengthAdjust="spacingAndGlyphs">10</text>
<text x="348.44" y="2032.80" font-size="35.5" textLength="33.73" lengthAdjust="spacingAndGlyphs">20</text>
<text x="468.54" y="2032.80" font-size="35.5" textLength="33.73" lengthAdjust="spacingAndGlyphs">30</text>
<text x="588.64" y="2032.80" font-size="35.5" textLength="33.73" lengthAdjust="spacingAndGlyphs">40</text>
<text x="708.74" y="2032.80" font-size="35.5" textLength="33.73" lengthAdjust="spacingAndGlyphs">50</text>
<text x="828.84" y="2032.80" font-size="35.5" textLength="33.73" lengthAdjust="spacingAndGlyphs">60</text>
<text x="948.94" y="2032.80" font-size="35.5" textLength="33.73" lengthAdjust="spacingAndGlyphs">70</text>
<text x="1069.04" y="2032.80" font-size="35.5" textLength="33.73" lengthAdjust="spacingAndGlyphs">80</text>
<text x="1189.14" y="2032.80" font-size="35.5" textLength="33.73" lengthAdjust="spacingAndGlyphs">90</text>
<text x="1302.01" y="2032.80" font-size="35.5" textLength="50.59" lengthAdjust="spacingAndGlyphs">100</text>
<text x="104.85" y="1667.70" font-size="35.5" textLength="12.15" lengthAdjust="spacingAndGlyphs">1</text>
<text x="76.64" y="1838.70" font-size="35.5" textLength="42.79" lengthAdjust="spacingAndGlyphs">0.5</text>
<text x="102.61" y="2009.90" font-size="35.5" textLength="17.53" lengthAdjust="spacingAndGlyphs">0</text>
<text x="126.40" y="1646.00" font-size="35.5" textLength="14.89" lengthAdjust="spacingAndGlyphs">x</text>
<text x="155.12" y="1646.00" font-size="35.5" textLength="32.87" lengthAdjust="spacingAndGlyphs">10</text>
<text x="186.00" y="1625.60" font-size="23.5" textLength="17.26" lengthAdjust="spacingAndGlyphs">-3</text>
<text x="623.82" y="2068.40" font-size="35.5" textLength="210.46" lengthAdjust="spacingAndGlyphs">Frequency[Hz]</text>
<text transform="translate(57.70,1898.50) rotate(-90)" font-size="35.5" textLength="154.07" lengthAdjust="spacingAndGlyphs">Amplitude</text>
</svg>
</body></html>
